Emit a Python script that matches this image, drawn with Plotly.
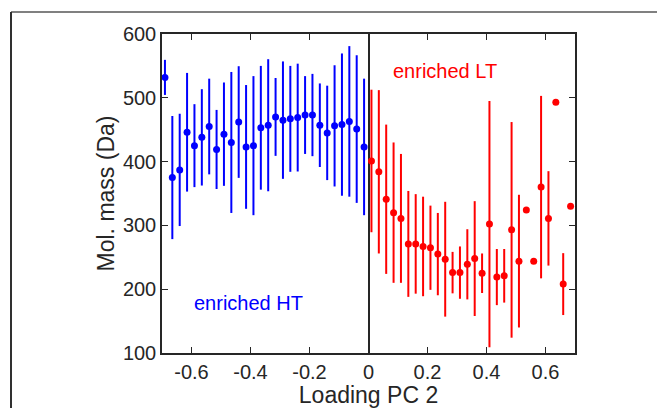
import plotly.graph_objects as go

# Data
blue_x = [-0.69 + 0.025 * i for i in range(28)]
blue_y = [532, 375, 387, 446, 425, 438, 455, 419, 443, 430, 462, 423, 425, 453,
          457, 470, 465, 467, 469, 473, 473, 457, 445, 456, 458, 463, 451, 423]
blue_err = [27.5, 96.5, 88, 93, 65, 75.5, 75, 62, 81, 110.5, 87.5, 97, 109, 97,
            103.5, 61, 92, 83, 84.5, 61, 64.5, 65.5, 74, 95, 111.5, 118, 115.7, 107]

red_x = [0.01 + 0.025 * i for i in range(28)]
red_y = [401, 384, 341, 320, 311, 271, 271, 267, 265, 255, 247, 226, 226, 239,
         248, 225, 302, 219, 221, 293, 244, 324, 244, 360, 311, 493, 208, 330]
red_err = [111.7, 128, 117, 110, 101, 83, 78, 78, 66, 64.5, 90, 32.5, 41, 55,
           90, 31, 193, 44, 42, 169, 104, 0, 0, 143, 74, 0, 48.5, 0]

x_tickvals = [-0.6, -0.4, -0.2, 0, 0.2, 0.4, 0.6]
x_ticktext = ["-0.6", "-0.4", "-0.2", "0", "0.2", "0.4", "0.6"]
y_tickvals = [100, 200, 300, 400, 500, 600]

FONT = "Liberation Sans, Arial, sans-serif"
AX = "#262626"

fig = go.Figure()
fig.add_trace(go.Scatter(
    x=blue_x, y=blue_y, mode="markers",
    marker=dict(color="#0000ff", size=7),
    error_y=dict(type="data", array=blue_err, visible=True, width=0,
                 thickness=2, color="#0000ff"),
    showlegend=False))
fig.add_trace(go.Scatter(
    x=red_x, y=red_y, mode="markers",
    marker=dict(color="#ff0000", size=7),
    error_y=dict(type="data", array=red_err, visible=True, width=0,
                 thickness=2, color="#ff0000"),
    showlegend=False))

fig.update_layout(
    width=657, height=400,
    margin=dict(l=154, r=90, t=26, b=55),
    paper_bgcolor="white", plot_bgcolor="white",
    font=dict(family=FONT, color=AX, size=20),
    xaxis=dict(range=[-0.7, 0.7], tickvals=x_tickvals, ticktext=x_ticktext,
               automargin=False,
               showgrid=False, zeroline=True, zerolinecolor=AX, zerolinewidth=1.5,
               showline=True, linecolor=AX, linewidth=1.5, mirror="ticks",
               ticks="inside", ticklen=6, tickcolor=AX, tickwidth=1,
               title=dict(text="Loading PC 2", font=dict(size=23), standoff=4)),
    yaxis=dict(range=[100, 600], tickvals=y_tickvals,
               automargin=False,
               showgrid=False, zeroline=False,
               showline=True, linecolor=AX, linewidth=1.5, mirror="ticks",
               ticks="inside", ticklen=6, tickcolor=AX, tickwidth=1,
               title=dict(text="Mol. mass (Da)", font=dict(size=23), standoff=2)),
    annotations=[
        dict(x=0.075, y=542, xref="x", yref="y", text="enriched LT", showarrow=False,
             xanchor="left", yanchor="middle", font=dict(size=20, color="#ff0000")),
        dict(x=-0.6, y=178, xref="x", yref="y", text="enriched HT", showarrow=False,
             xanchor="left", yanchor="middle", font=dict(size=20, color="#0000ff")),
    ],
    shapes=[
        dict(type="line", xref="paper", yref="paper", x0=-0.3656, x1=1.25,
             y0=1.069, y1=1.069, line=dict(color="#808080", width=2)),
        dict(type="line", xref="paper", yref="paper", x0=-0.3656, x1=-0.3656,
             y0=1.069, y1=-0.2, line=dict(color="#303030", width=2)),
    ],
)

fig.write_html("out.html")
